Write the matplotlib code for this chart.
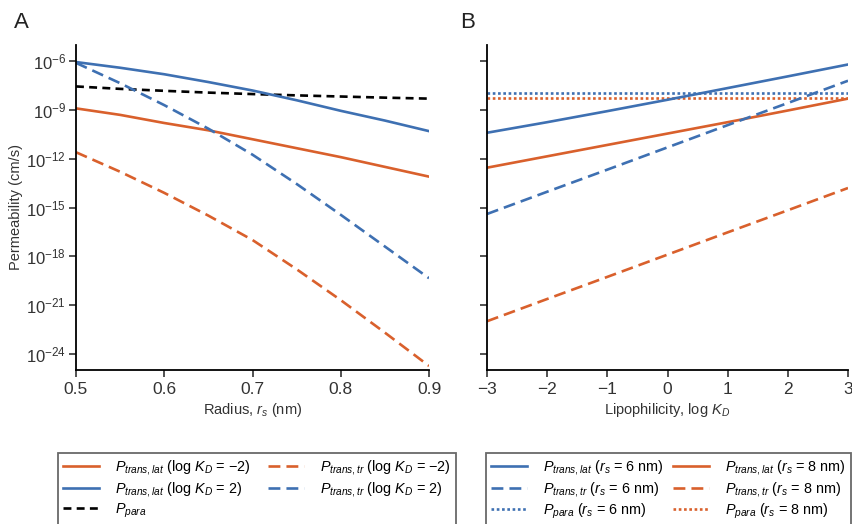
import numpy as np
import matplotlib
matplotlib.use("Agg")
import matplotlib.pyplot as plt
from matplotlib.lines import Line2D

plt.rcParams['font.family'] = ['Liberation Sans', 'DejaVu Sans']
plt.rcParams['mathtext.fontset'] = 'custom'
plt.rcParams['mathtext.rm'] = 'Liberation Sans'
plt.rcParams['mathtext.it'] = 'Liberation Sans:italic'
plt.rcParams['mathtext.bf'] = 'Liberation Sans:bold'

ORANGE = '#D9602C'
BLUE = '#3E70B2'

# panel A: permeability (log10 cm/s) vs solute radius
radius = [0.5, 0.55, 0.6, 0.65, 0.7, 0.75, 0.8, 0.85, 0.9]
a_lat_m2 = [-8.9, -9.3, -9.8, -10.25, -10.8, -11.35, -11.9, -12.5, -13.1]
a_lat_p2 = [-6.05, -6.4, -6.8, -7.28, -7.8, -8.4, -9.05, -9.65, -10.3]
a_tr_m2 = [-11.6, -12.8, -14.1, -15.5, -17.0, -18.8, -20.7, -22.7, -24.75]
a_tr_p2 = [-6.1, -7.35, -8.7, -10.15, -11.75, -13.55, -15.45, -17.4, -19.35]
a_para = [-7.55, -7.7, -7.82, -7.93, -8.02, -8.1, -8.17, -8.24, -8.3]

# panel B: permeability (log10 cm/s) vs lipophilicity
log_kd = [-3, -2, -1, 0, 1, 2, 3]
b_lat_6 = [-10.4, -9.75, -9.07, -8.37, -7.65, -6.93, -6.2]
b_lat_8 = [-12.55, -11.85, -11.15, -10.45, -9.75, -9.03, -8.3]
b_tr_6 = [-15.4, -14.03, -12.67, -11.3, -9.93, -8.57, -7.2]
b_tr_8 = [-22.0, -20.63, -19.27, -17.9, -16.53, -15.17, -13.8]
b_para_6 = [-7.97] * len(log_kd)
b_para_8 = [-8.24] * len(log_kd)

y_ticks = [-24, -21, -18, -15, -12, -9, -6]


def p(vals):
    return np.power(10.0, np.array(vals, dtype=float))


fig = plt.figure(figsize=(8.52, 5.24), dpi=100)
W, H = 852.0, 524.0
ax_a = fig.add_axes([76 / W, 1 - 370 / H, 353 / W, 325 / H])
ax_b = fig.add_axes([487 / W, 1 - 370 / H, 361 / W, 325 / H])

lw = 1.9
dash_long = (0, (4.5, 2.3))
dash_black = (0, (3, 2))
dotted = (0, (1, 1))

ax_a.plot(radius, p(a_para), color='black', lw=lw, ls=dash_black)
ax_a.plot(radius, p(a_lat_p2), color=BLUE, lw=lw)
ax_a.plot(radius, p(a_lat_m2), color=ORANGE, lw=lw)
ax_a.plot(radius, p(a_tr_p2), color=BLUE, lw=lw, ls=dash_long)
ax_a.plot(radius, p(a_tr_m2), color=ORANGE, lw=lw, ls=dash_long)

ax_b.plot(log_kd, p(b_para_6), color=BLUE, lw=lw, ls=dotted)
ax_b.plot(log_kd, p(b_para_8), color=ORANGE, lw=lw, ls=dotted)
ax_b.plot(log_kd, p(b_lat_6), color=BLUE, lw=lw)
ax_b.plot(log_kd, p(b_lat_8), color=ORANGE, lw=lw)
ax_b.plot(log_kd, p(b_tr_6), color=BLUE, lw=lw, ls=dash_long)
ax_b.plot(log_kd, p(b_tr_8), color=ORANGE, lw=lw, ls=dash_long)

for ax in (ax_a, ax_b):
    ax.set_yscale('log')
    ax.set_ylim(1e-25, 1e-5)
    ax.set_yticks([10.0 ** t for t in y_ticks])
    ax.yaxis.set_minor_locator(matplotlib.ticker.NullLocator())
    ax.spines['top'].set_visible(False)
    ax.spines['right'].set_visible(False)
    for s in ('left', 'bottom'):
        ax.spines[s].set_linewidth(1.3)
    ax.tick_params(direction='out', length=5, width=1.2, labelsize=12.5, colors='#333333')

ax_a.set_yticklabels(['$10^{%d}$' % t for t in y_ticks])
ax_a.tick_params(axis='y', labelsize=12, pad=2)
ax_b.set_yticklabels([])

ax_a.set_xlim(0.5, 0.9)
ax_a.set_xticks([0.5, 0.6, 0.7, 0.8, 0.9])
ax_b.set_xlim(-3, 3)
ax_b.set_xticks(log_kd)
ax_b.set_xticklabels(['\u22123', '\u22122', '\u22121', '0', '1', '2', '3'])

ax_a.set_xlabel('Radius, $r_s$ (nm)', fontsize=10.5, labelpad=3, color='#333333')
ax_b.set_xlabel('Lipophilicity, log $K_D$', fontsize=10.5, labelpad=3, color='#333333')
ax_a.set_ylabel('Permeability (cm/s)', fontsize=10.5, labelpad=2, color='#333333')

fig.text(14 / W, 1 - 28 / H, 'A', fontsize=16, color='#222222')
fig.text(460 / W, 1 - 28 / H, 'B', fontsize=16, color='#222222')

# legends
leg_kw = dict(loc='upper left', mode='expand', ncol=2, fontsize=10.4,
              frameon=True, fancybox=False, edgecolor='#444444',
              handlelength=2.5, handletextpad=1.1, columnspacing=1.0,
              labelspacing=0.2, borderpad=0.35, borderaxespad=0)

h_a = [Line2D([], [], color=ORANGE, lw=lw),
       Line2D([], [], color=BLUE, lw=lw),
       Line2D([], [], color='black', lw=lw, ls=dash_black),
       Line2D([], [], color=ORANGE, lw=lw, ls=dash_long),
       Line2D([], [], color=BLUE, lw=lw, ls=dash_long)]
l_a = ['$P_{trans,lat}$ (log $K_D$ = \u22122)',
       '$P_{trans,lat}$ (log $K_D$ = 2)',
       '$P_{para}$',
       '$P_{trans,tr}$ (log $K_D$ = \u22122)',
       '$P_{trans,tr}$ (log $K_D$ = 2)']
leg_a = fig.legend(h_a, l_a, bbox_to_anchor=(58 / W, 1 - 458 / H, 398 / W, 0.01), **leg_kw)
leg_a.get_frame().set_linewidth(1.3)

h_b = [Line2D([], [], color=BLUE, lw=lw),
       Line2D([], [], color=BLUE, lw=lw, ls=dash_long),
       Line2D([], [], color=BLUE, lw=lw, ls=dotted),
       Line2D([], [], color=ORANGE, lw=lw),
       Line2D([], [], color=ORANGE, lw=lw, ls=dash_long),
       Line2D([], [], color=ORANGE, lw=lw, ls=dotted)]
l_b = ['$P_{trans,lat}$ ($r_s$ = 6 nm)',
       '$P_{trans,tr}$ ($r_s$ = 6 nm)',
       '$P_{para}$ ($r_s$ = 6 nm)',
       '$P_{trans,lat}$ ($r_s$ = 8 nm)',
       '$P_{trans,tr}$ ($r_s$ = 8 nm)',
       '$P_{para}$ ($r_s$ = 8 nm)']
leg_b = fig.legend(h_b, l_b, bbox_to_anchor=(486 / W, 1 - 458 / H, 365 / W, 0.01), **leg_kw)
leg_b.get_frame().set_linewidth(1.3)

fig.savefig('out.png', dpi=100)
